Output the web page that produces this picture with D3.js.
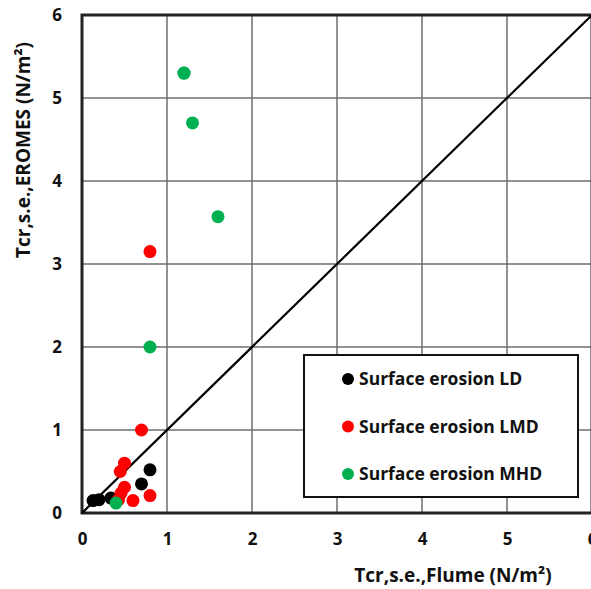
<!DOCTYPE html>
<html><head><meta charset="utf-8">
<script src="https://cdn.jsdelivr.net/npm/d3@7"></script>
<style>body{margin:0;background:#fff;} svg{display:block;}</style>
</head><body>
<script>
const ticks = [0,1,2,3,4,5,6];
const seriesNames = ["Surface erosion LD","Surface erosion LMD","Surface erosion MHD"];
const seriesColors = ["#000000","#FF0000","#00B050"];
const ldX = [0.13,0.2,0.34,0.7,0.8];
const ldY = [0.15,0.16,0.18,0.35,0.52];
const lmdX = [0.8,0.7,0.5,0.45,0.5,0.46,0.8,0.6,0.43];
const lmdY = [3.15,1.0,0.6,0.5,0.31,0.24,0.21,0.15,0.16];
const mhdX = [1.2,1.2,1.3,1.6,0.8,0.4];
const mhdY = [5.3,5.3,4.7,3.57,2.0,0.12];
const xTitle = "Tcr,s.e.,Flume (N/m²)";
const yTitle = "Tcr,s.e.,EROMES (N/m²)";

const W=591,H=589;
const svg=d3.select("body").append("svg").attr("width",W).attr("height",H);
const x=d3.scaleLinear().domain([0,6]).range([82,592]);
const y=d3.scaleLinear().domain([0,6]).range([513,15]);
const font="'Open Sans', Lato, sans-serif";

// grid
svg.append("g").selectAll("line.v").data(ticks.slice(1)).join("line")
  .attr("x1",d=>x(d)).attr("x2",d=>x(d)).attr("y1",y(0)).attr("y2",y(6))
  .attr("stroke","#6e6e6e").attr("stroke-width",1.5);
svg.append("g").selectAll("line.h").data(ticks.slice(1)).join("line")
  .attr("x1",x(0)).attr("x2",x(6)).attr("y1",d=>y(d)).attr("y2",d=>y(d))
  .attr("stroke","#6e6e6e").attr("stroke-width",1.5);

// frame
svg.append("rect").attr("x",x(0)).attr("y",y(6)).attr("width",x(6)-x(0)).attr("height",y(0)-y(6))
  .attr("fill","none").attr("stroke","#222").attr("stroke-width",3);

// axes (labels only)
const xAxis=svg.append("g").attr("transform",`translate(0,${y(0)})`)
  .call(d3.axisBottom(x).tickValues(ticks).tickSize(0).tickPadding(20).tickFormat(d3.format("d")));
const yAxis=svg.append("g").attr("transform",`translate(${x(0)},0)`)
  .call(d3.axisLeft(y).tickValues(ticks).tickSize(0).tickPadding(20).tickFormat(d3.format("d")));
[xAxis,yAxis].forEach(a=>{a.select(".domain").remove();
  a.selectAll("text").attr("font-family",font).attr("font-weight","bold").attr("font-size",17).attr("fill","#111");});

// 1:1 line
svg.append("line").attr("x1",x(0)).attr("y1",y(0)).attr("x2",x(6)).attr("y2",y(6))
  .attr("stroke","#000").attr("stroke-width",2.2);

// points
const series=[[ldX,ldY],[lmdX,lmdY],[mhdX,mhdY]];
series.forEach(([xs,ys],i)=>{
  svg.append("g").selectAll("circle").data(xs.map((v,j)=>[v,ys[j]])).join("circle")
    .attr("cx",d=>x(d[0])).attr("cy",d=>y(d[1])).attr("r",6.5).attr("fill",seriesColors[i]);
});

// legend
const lg=svg.append("g");
lg.append("rect").attr("x",304).attr("y",355).attr("width",274).attr("height",142)
  .attr("fill","#fff").attr("stroke","#111").attr("stroke-width",2);
seriesNames.forEach((n,i)=>{
  const cy=379+i*47.5;
  lg.append("circle").attr("cx",348).attr("cy",cy).attr("r",6).attr("fill",seriesColors[i]);
  lg.append("text").attr("x",359).attr("y",cy).attr("dy","0.35em").text(n)
    .attr("font-family",font).attr("font-weight","bold").attr("font-size",17.5).attr("fill","#111");
});

// titles
svg.append("text").attr("x",453).attr("y",575).attr("dy","0.35em").attr("text-anchor","middle")
  .text(xTitle).attr("font-family",font).attr("font-weight","bold").attr("font-size",19).attr("fill","#111");
svg.append("text").attr("transform","translate(23,150) rotate(-90)").attr("dy","0.35em").attr("text-anchor","middle")
  .text(yTitle).attr("font-family",font).attr("font-weight","bold").attr("font-size",19).attr("fill","#111");
</script>
</body></html>
